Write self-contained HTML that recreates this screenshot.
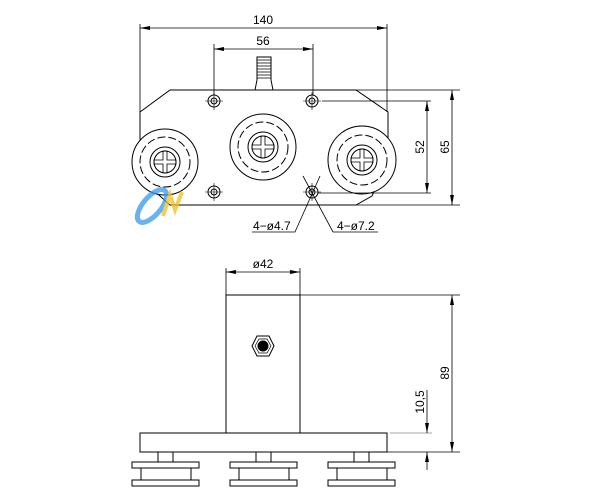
<!DOCTYPE html>
<html><head><style>body{margin:0;background:#fff}svg{display:block}text{font-family:"Liberation Sans",sans-serif;font-size:12px;fill:#000}</style></head><body>
<svg width="600" height="498" viewBox="0 0 600 498" xmlns="http://www.w3.org/2000/svg">
<defs>
<marker id="a" viewBox="0 0 10 4" refX="10" refY="2" markerWidth="10" markerHeight="4" orient="auto-start-reverse" markerUnits="userSpaceOnUse"><path d="M0,0L10,2L0,4z" fill="#000"/></marker>
<g id="hub">
<circle r="15"/><circle r="11"/>
<path d="M-2,-11V-2H-11V2H-2V11H2V2H11V-2H2V-11Z" stroke-width="0.8"/>
</g>
</defs>
<g fill="none" stroke="#000" stroke-width="1">
<polygon points="170,90 356,90 388,112 388,160 372,196 356,205 170,205 140,178 140,112" fill="#fff"/>
<path d="M255,90 L257,80 L257,57 L271,57 L271,80 L273,90"/>
<path d="M257,60h14M257,63h14M257,66h14M257,69h14M257,72h14M257,75h14M257,78h14" stroke-width="0.8"/>
<g fill="#fff">
<circle cx="165" cy="162" r="33"/><circle cx="263" cy="147" r="33"/><circle cx="362" cy="160" r="34"/>
</g>
<g stroke-dasharray="8,3">
<circle cx="165" cy="162" r="25"/><circle cx="263" cy="147" r="25"/><circle cx="362" cy="160" r="25"/>
</g>
<use href="#hub" transform="translate(165,162)"/>
<use href="#hub" transform="translate(263,147)"/>
<use href="#hub" transform="translate(362,160)"/>
<g>
<circle cx="214" cy="101" r="6"/><circle cx="214" cy="101" r="3"/>
<circle cx="312" cy="101" r="6"/><circle cx="312" cy="101" r="3"/>
<circle cx="214" cy="192" r="6"/><circle cx="214" cy="192" r="3"/>
<circle cx="312" cy="192" r="6"/><circle cx="312" cy="192" r="3"/>
<path d="M205,101h18M214,92v18M303,101h18M312,92v18M205,192h18M214,183v18M303,192h18M312,183v18" stroke-width="0.6"/>
</g>
<path d="M140,24V112M387,24V112" stroke-width="0.8"/>
<line x1="140" y1="28" x2="387" y2="28" marker-start="url(#a)" marker-end="url(#a)" stroke-width="0.8"/>
<path d="M214,44V95M313,44V95" stroke-width="0.8"/>
<line x1="214" y1="49" x2="313" y2="49" marker-start="url(#a)" marker-end="url(#a)" stroke-width="0.8"/>
<path d="M322,101H431M318,193H431M356,90H460M356,205H460" stroke-width="0.8"/>
<line x1="427" y1="101" x2="427" y2="193" marker-start="url(#a)" marker-end="url(#a)" stroke-width="0.8"/>
<line x1="452" y1="90" x2="452" y2="205" marker-start="url(#a)" marker-end="url(#a)" stroke-width="0.8"/>
<path d="M252,232H295L320,176M378,232H333L303,176" stroke-width="0.8"/>
<rect x="226" y="295" width="74" height="138"/>
<rect x="140" y="433" width="247" height="19"/>
<polygon points="252,346 257,336 269,336 274,346 269,356 257,356"/>
<polygon points="255,346 259,339 267,339 271,346 267,353 259,353" stroke-width="0.7"/>
<circle cx="263" cy="346" r="5" fill="#000"/>
<path d="M226,268V295M300,268V295" stroke-width="0.8"/>
<line x1="226" y1="272" x2="300" y2="272" marker-start="url(#a)" marker-end="url(#a)" stroke-width="0.8"/>
<path d="M300,295H460M387,452H460" stroke-width="0.8"/>
<path d="M390,433H432" stroke="#888" stroke-width="0.8"/>
<line x1="452" y1="295" x2="452" y2="452" marker-start="url(#a)" marker-end="url(#a)" stroke-width="0.8"/>
<line x1="427" y1="390" x2="427" y2="433" marker-end="url(#a)" stroke-width="0.8"/>
<line x1="427" y1="470" x2="427" y2="452" marker-end="url(#a)" stroke-width="0.8"/>
<g id="w">
<rect x="158" y="452" width="15" height="10"/>
<rect x="132" y="462" width="67" height="6"/>
<rect x="141" y="468" width="50" height="12"/>
<rect x="132" y="480" width="67" height="6"/>
</g>
<use href="#w" transform="translate(98,0)"/>
<use href="#w" transform="translate(196,0)"/>
</g>
<g opacity="0.75">
<ellipse cx="152" cy="206" rx="9" ry="20" transform="rotate(40 152 206)" fill="none" stroke="#3399ee" stroke-width="5"/>
<path d="M163,216 L170,195 L175,210 L182,192" fill="none" stroke="#f0c020" stroke-width="4"/>
</g>
<text x="263" y="24" text-anchor="middle">140</text>
<text x="263" y="45" text-anchor="middle">56</text>
<text transform="translate(424,147) rotate(-90)" text-anchor="middle">52</text>
<text transform="translate(449,147) rotate(-90)" text-anchor="middle">65</text>
<text x="253" y="230">4−ø4.7</text>
<text x="337" y="230">4−ø7.2</text>
<text x="263" y="268" text-anchor="middle">ø42</text>
<text transform="translate(449,373) rotate(-90)" text-anchor="middle">89</text>
<text transform="translate(424,402) rotate(-90)" text-anchor="middle">10,5</text>
</svg>
</body></html>
